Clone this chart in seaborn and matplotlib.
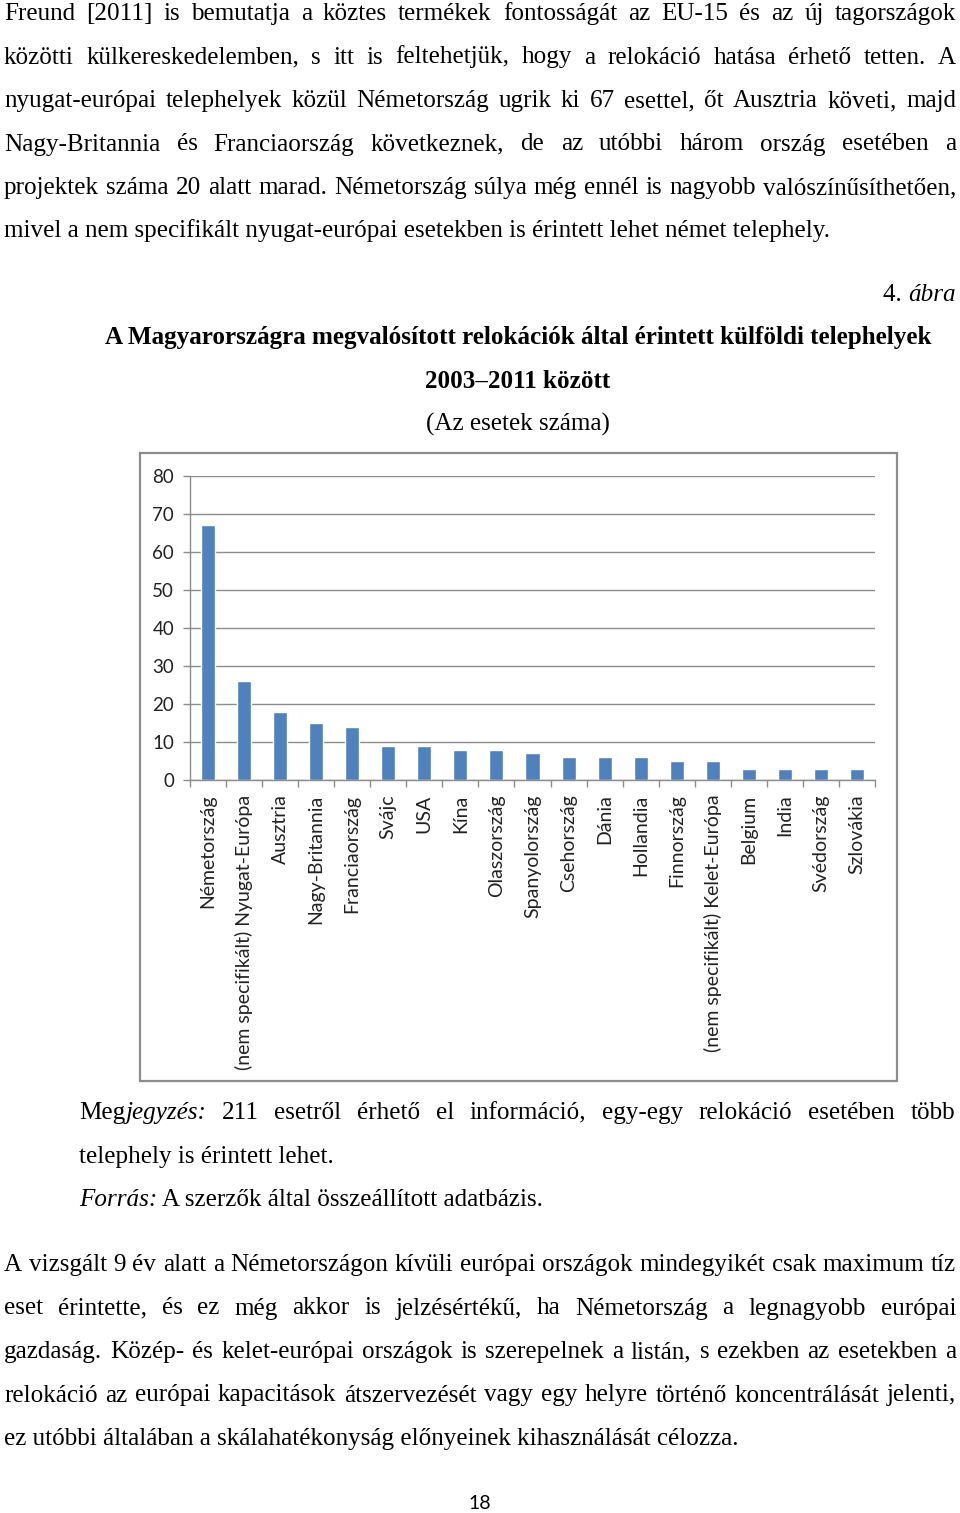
import matplotlib
matplotlib.use("Agg")
import matplotlib.pyplot as plt
import seaborn as sns
import pandas as pd
from matplotlib.patches import Rectangle

# ---------------- data ----------------
categories = ["Németország", "(nem specifikált) Nyugat-Európa", "Ausztria", "Nagy-Britannia",
              "Franciaország", "Svájc", "USA", "Kína", "Olaszország", "Spanyolország",
              "Csehország", "Dánia", "Hollandia", "Finnország", "(nem specifikált) Kelet-Európa",
              "Belgium", "India", "Svédország", "Szlovákia"]
values = [67, 26, 18, 15, 14, 9, 9, 8, 8, 7, 6, 6, 6, 5, 5, 3, 3, 3, 3]
y_ticks = [0, 10, 20, 30, 40, 50, 60, 70, 80]

para1_lines = [
    "Freund [2011] is bemutatja a köztes termékek fontosságát az EU-15 és az új tagországok",
    "közötti külkereskedelemben, s itt is feltehetjük, hogy a relokáció hatása érhető tetten. A",
    "nyugat-európai telephelyek közül Németország ugrik ki 67 esettel, őt Ausztria követi, majd",
    "Nagy-Britannia és Franciaország következnek, de az utóbbi három ország esetében a",
    "projektek száma 20 alatt marad. Németország súlya még ennél is nagyobb valószínűsíthetően,",
    "mivel a nem specifikált nyugat-európai esetekben is érintett lehet német telephely.",
]
fig_num = "4. "
fig_word = "ábra"
title_lines = ["A Magyarországra megvalósított relokációk által érintett külföldi telephelyek",
               "2003–2011 között"]
subtitle = "(Az esetek száma)"
note_lead_normal = "Meg"
note_lead_italic = "jegyzés:"
note_line1 = "211 esetről érhető el információ, egy-egy relokáció esetében több"
note_line2 = "telephely is érintett lehet."
source_label = "Forrás:"
source_text = " A szerzők által összeállított adatbázis."
para2_lines = [
    "A vizsgált 9 év alatt a Németországon kívüli európai országok mindegyikét csak maximum tíz",
    "eset érintette, és ez még akkor is jelzésértékű, ha Németország a legnagyobb európai",
    "gazdaság. Közép- és kelet-európai országok is szerepelnek a listán, s ezekben az esetekben a",
    "relokáció az európai kapacitások átszervezését vagy egy helyre történő koncentrálását jelenti,",
    "ez utóbbi általában a skálahatékonyság előnyeinek kihasználását célozza.",
]
page_number = "18"

# ---------------- setup ----------------
W, H = 960, 1513
sns.set_theme(style="white")
plt.rcParams['font.family'] = ['Liberation Serif', 'DejaVu Serif']
fig = plt.figure(figsize=(W / 100, H / 100), dpi=100)
fig.patch.set_facecolor("white")
renderer = fig.canvas.get_renderer()

BODY = 18.1
GRAY = "#8C8C8C"
BLUE = "#4F81BD"


def fx(x):
    return x / W


def fy(y):
    return 1 - y / H


def put(x, y, s, size, ha="left", **kw):
    return fig.text(fx(x), fy(y), s, fontsize=size, ha=ha, va="baseline", color="black", **kw)


def width(t):
    return t.get_window_extent(renderer).width


def justify(words, y, left, right, size):
    # words: list of words, each a list of (text, style) segments
    placed = []
    widths = []
    for word in words:
        segs = []
        tot = 0
        for txt, st in word:
            t = put(0, y, txt, size, style=st)
            w = width(t)
            segs.append((t, w))
            tot += w
        placed.append(segs)
        widths.append(tot)
    gap = (right - left - sum(widths)) / (len(words) - 1)
    x = left
    for segs, w in zip(placed, widths):
        cx = x
        for t, sw in segs:
            t.set_x(fx(cx))
            cx += sw
        x += w + gap


def plain_words(line):
    return [[(w, "normal")] for w in line.split(" ")]


# ---------------- paragraph 1 ----------------
base = 20
step = 43.5
for i, line in enumerate(para1_lines):
    y = base + i * step
    if i < len(para1_lines) - 1:
        justify(plain_words(line), y, 4, 956, BODY)
    else:
        put(4, y, line, BODY)

# ---------------- figure label + titles ----------------
tw = put(956, 301, fig_word, BODY, ha="right", style="italic")
put(956 - width(tw), 301, fig_num, BODY, ha="right")
put(518, 344, title_lines[0], BODY, ha="center", weight="bold")
put(518, 388, title_lines[1], BODY, ha="center", weight="bold")
put(518, 431, subtitle, BODY, ha="center")

# ---------------- chart ----------------
fig.add_artist(Rectangle((fx(140), fy(1081)), (897 - 140) / W, (1081 - 453) / H,
                         transform=fig.transFigure, fill=False, edgecolor=GRAY, lw=1.6))

ax = fig.add_axes([fx(190), fy(780), (875 - 190) / W, (780 - 476) / H])
df = pd.DataFrame({"orszag": categories, "esetek": values})
sns.barplot(data=df, x="orszag", y="esetek", color=BLUE, saturation=1, width=0.39, ax=ax)
ax.set_facecolor("white")
ax.set_ylim(0, 80)
ax.set_xlim(-0.5, len(categories) - 0.5)
ax.set_xlabel("")
ax.set_ylabel("")
ax.set_yticks(y_ticks)
ax.set_yticklabels([str(v) for v in y_ticks])
ax.yaxis.grid(True, color=GRAY, lw=1)
ax.xaxis.grid(False)
ax.set_axisbelow(True)
for s in ["top", "right"]:
    ax.spines[s].set_visible(False)
for s in ["left", "bottom"]:
    ax.spines[s].set_color(GRAY)
    ax.spines[s].set_linewidth(1)
ax.tick_params(axis="y", length=5, width=1, color=GRAY, direction="out", left=True,
               labelsize=13.5, pad=6.5, labelcolor="#222222")
ax.set_xticks(range(len(categories)))
ax.set_xticklabels(categories, rotation=90, ha="center", va="top")
ax.tick_params(axis="x", which="major", length=0, pad=10.5, labelsize=14, labelcolor="#222222")
ax.set_xticks([i - 0.5 for i in range(len(categories) + 1)], minor=True)
ax.tick_params(axis="x", which="minor", length=5, width=1, color=GRAY, bottom=True, direction="out")
for lbl in ax.get_xticklabels() + ax.get_yticklabels():
    lbl.set_fontfamily("Lato")

# ---------------- note & source ----------------
note_words = [[(note_lead_normal, "normal"), (note_lead_italic, "italic")]] + plain_words(note_line1)
justify(note_words, 1119, 79, 955, BODY)
put(79, 1163, note_line2, BODY)
sl = put(79, 1206, source_label, BODY, style="italic")
put(79 + width(sl), 1206, source_text, BODY)

# ---------------- paragraph 2 ----------------
base2 = 1271
for i, line in enumerate(para2_lines):
    y = base2 + i * step
    if i < len(para2_lines) - 1:
        justify(plain_words(line), y, 4, 956, BODY)
    else:
        put(4, y, line, BODY)

put(480, 1509, page_number, 14, ha="center", family="Lato")

fig.savefig("out.png", dpi=100, facecolor="white")
